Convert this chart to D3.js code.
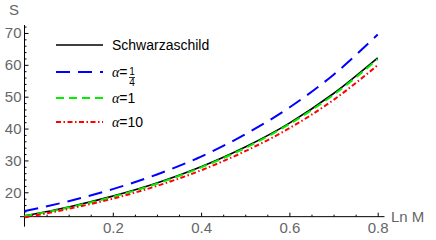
<!DOCTYPE html>
<html>
<head>
<meta charset="utf-8">
<script src="https://cdn.jsdelivr.net/npm/d3@7"></script>
<style>
  body { margin: 0; background: #fff; }
  text { font-family: "Liberation Sans", Arial, sans-serif; }
</style>
</head>
<body>
<div id="chart"></div>
<script>
// values
var lnM = [0, 0.1, 0.2, 0.3, 0.4, 0.5, 0.6, 0.7, 0.8];
var sSchwarz = [12.6, 15.4, 18.8, 22.9, 28.0, 34.2, 41.7, 51.0, 62.2];
var sQuarter = [14.1, 17.2, 21.0, 25.6, 31.2, 38.2, 46.6, 56.9, 69.5];
var sOne = [12.5, 15.2, 18.6, 22.7, 27.8, 33.9, 41.4, 50.6, 61.8];
var sTen = [12.1, 14.8, 18.0, 22.0, 26.9, 32.9, 40.1, 49.0, 59.9];

var xTicks = [0.2, 0.4, 0.6, 0.8];
var yTicks = [20, 30, 40, 50, 60, 70];

var w = 436, h = 240;

var svg = d3.select("#chart")
  .append("svg")
  .attr("width", w)
  .attr("height", h);

svg.append("rect").attr("width", w).attr("height", h).attr("fill", "white");

// scales (x axis spans the padded plot range)
var xScale = d3.scaleLinear().domain([0, 0.8]).range([24.5, 377.7]);
var yScale = d3.scaleLinear().domain([9.2, 72.5]).range([226.7, 25]);
var yCross = 12.35; // where the x axis crosses

var xMin = xScale.invert(20), xMax = xScale.invert(384.5);

// minor ticks
var xMinor = d3.range(0.05, 0.801, 0.05).filter(function(v) {
  return xTicks.every(function(t) { return Math.abs(t - v) > 1e-6; });
});
var yMinor = d3.range(14, 73, 2).filter(function(v) { return v % 10 != 0; });

// x axis
var gx = svg.append("g").attr("transform", "translate(0," + yScale(yCross) + ")");
gx.append("line")
  .attr("x1", xScale(xMin)).attr("x2", xScale(xMax))
  .attr("stroke", "black").attr("stroke-width", 1);
gx.append("g")
  .call(d3.axisBottom(xScale).tickValues(xMinor).tickSize(-2).tickFormat(""))
  .call(function(g) { g.select(".domain").remove(); });
gx.append("g")
  .call(d3.axisBottom(xScale).tickValues(xTicks).tickSize(-4).tickPadding(6).tickFormat(d3.format(".1f")))
  .call(function(g) { g.select(".domain").remove(); })
  .selectAll("text")
  .attr("fill", "#666")
  .style("font-size", "15px");

// y axis
var gy = svg.append("g").attr("transform", "translate(" + xScale(0) + ",0)");
gy.append("line")
  .attr("y1", yScale(9.2)).attr("y2", yScale(72.5))
  .attr("stroke", "black").attr("stroke-width", 1);
gy.append("g")
  .call(d3.axisLeft(yScale).tickValues(yMinor).tickSize(-2).tickFormat(""))
  .call(function(g) { g.select(".domain").remove(); });
gy.append("g")
  .call(d3.axisLeft(yScale).tickValues(yTicks).tickSize(-4).tickPadding(3))
  .call(function(g) { g.select(".domain").remove(); })
  .selectAll("text")
  .attr("fill", "#666")
  .style("font-size", "15px");

svg.selectAll(".tick line").attr("stroke", "black");

// axis labels
svg.append("text")
  .attr("x", 14).attr("y", 15)
  .attr("text-anchor", "middle")
  .attr("fill", "#666")
  .style("font-size", "15px")
  .text("S");

svg.append("text")
  .attr("x", 391).attr("y", 222)
  .attr("fill", "#666")
  .style("font-size", "15px")
  .text("Ln M");

// curves
var series = [
  {name: "Schwarzaschild", values: sSchwarz, color: "black", dash: null, width: 1.6},
  {name: "quarter", values: sQuarter, color: "#0000ff", dash: "14,8", width: 2},
  {name: "one", values: sOne, color: "#00f000", dash: "8,5", width: 2},
  {name: "ten", values: sTen, color: "#ff0000", dash: "5,2.5,1.5,2.5", width: 2}
];

var line = d3.line()
  .x(function(d) { return xScale(d.x); })
  .y(function(d) { return yScale(d.y); })
  .curve(d3.curveMonotoneX);

series.forEach(function(s) {
  svg.append("path")
    .datum(lnM.map(function(x, i) { return {x: x, y: s.values[i]}; }))
    .attr("d", line)
    .attr("fill", "none")
    .attr("stroke", s.color)
    .attr("stroke-width", s.width)
    .attr("stroke-dasharray", s.dash);
});

// legend
var rowY = [45, 72, 98, 122];
var legend = svg.append("g");

series.forEach(function(s, i) {
  legend.append("line")
    .attr("x1", 56).attr("x2", 103)
    .attr("y1", rowY[i]).attr("y2", rowY[i])
    .attr("stroke", s.color)
    .attr("stroke-width", s.width)
    .attr("stroke-dasharray", s.dash);
});

legend.append("text")
  .attr("x", 112).attr("y", rowY[0] + 5)
  .style("font-size", "14px")
  .text("Schwarzaschild");

function alphaLabel(y, rest) {
  var t = legend.append("text")
    .attr("x", 112).attr("y", y + 5)
    .style("font-size", "14px");
  t.append("tspan").style("font-family", "'Liberation Serif', serif").style("font-style", "italic").text("α");
  t.append("tspan").text("=" + rest);
  return t;
}

alphaLabel(rowY[1], "");
// 1/4 fraction
legend.append("text")
  .attr("x", 132).attr("y", rowY[1] + 3)
  .attr("text-anchor", "middle")
  .style("font-size", "10px")
  .text("1");
legend.append("line")
  .attr("x1", 129).attr("x2", 135)
  .attr("y1", rowY[1] + 5.5).attr("y2", rowY[1] + 5.5)
  .attr("stroke", "black").attr("stroke-width", 0.8);
legend.append("text")
  .attr("x", 132).attr("y", rowY[1] + 14)
  .attr("text-anchor", "middle")
  .style("font-size", "10px")
  .text("4");

alphaLabel(rowY[2], "1");
alphaLabel(rowY[3], "10");
</script>
</body>
</html>
